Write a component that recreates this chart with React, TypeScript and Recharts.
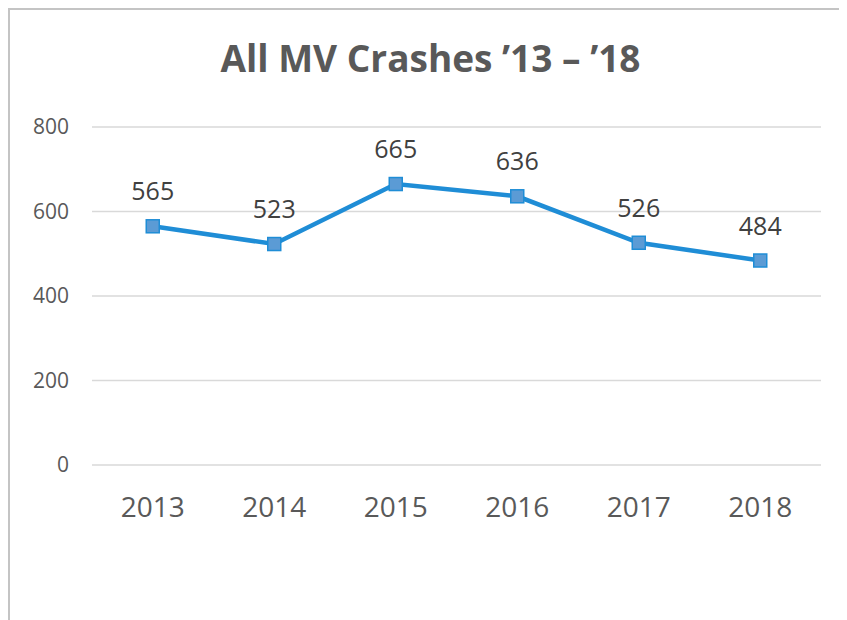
import React from "react";
import {
  LineChart,
  Line,
  XAxis,
  YAxis,
  CartesianGrid,
  LabelList,
} from "recharts";

// ─── Data ───────────────────────────────────────────────────────────────────
const YEARS = ["2013", "2014", "2015", "2016", "2017", "2018"];
const CRASHES = [565, 523, 665, 636, 526, 484];
const Y_TICKS = [0, 200, 400, 600, 800];

const data = YEARS.map((year, i) => ({ year, crashes: CRASHES[i] }));

// ─── Colours / fonts ───────────────────────────────────────────────────────
const LINE_COLOR = "#1f8dd6";
const MARKER_FILL = "#5b9bd5";
const GRID_COLOR = "#d9d9d9";
const AXIS_TEXT = "#595959";
const LABEL_TEXT = "#404040";
const FONT = "'Open Sans', 'Noto Sans', sans-serif";

function SquareDot(props: { cx?: number; cy?: number; index?: number }) {
  const { cx, cy, index } = props;
  if (cx == null || cy == null) return null;
  const s = 13;
  return (
    <rect
      key={`dot-${index}`}
      x={cx - s / 2}
      y={cy - s / 2}
      width={s}
      height={s}
      fill={MARKER_FILL}
      stroke={LINE_COLOR}
      strokeWidth={1.5}
    />
  );
}

export default function App() {
  return (
    <div
      style={{
        position: "relative",
        width: 839,
        height: 612,
        borderTop: "2px solid #c4c4c4",
        borderLeft: "2px solid #c4c4c4",
        boxSizing: "border-box",
        overflow: "hidden",
        background: "#fff",
        fontFamily: FONT,
      }}
    >
      <div
        style={{
          position: "absolute",
          left: 0,
          top: 23,
          width: 841,
          textAlign: "center",
          fontSize: 37,
          fontWeight: 700,
          color: AXIS_TEXT,
          lineHeight: "50px",
        }}
      >
        All MV Crashes ’13 – ’18
      </div>
      <LineChart
        width={837}
        height={610}
        data={data}
        margin={{ top: 117, right: 26, bottom: 125, left: 22 }}
      >
        <CartesianGrid
          vertical={false}
          stroke={GRID_COLOR}
          strokeWidth={1.5}
        />
        <XAxis
          dataKey="year"
          height={30}
          axisLine={false}
          tickLine={false}
          tickSize={0}
          tickMargin={32}
          padding={{ left: 60.75, right: 60.75 }}
          tick={{ fontSize: 28, fill: AXIS_TEXT, fontFamily: FONT }}
        />
        <YAxis
          width={60}
          domain={[0, 800]}
          ticks={Y_TICKS}
          axisLine={false}
          tickLine={false}
          tickSize={0}
          tickMargin={23}
          tick={{ fontSize: 21, fill: AXIS_TEXT, fontFamily: FONT }}
        />
        <Line
          type="linear"
          dataKey="crashes"
          stroke={LINE_COLOR}
          strokeWidth={4.5}
          dot={<SquareDot />}
          activeDot={false}
          isAnimationActive={false}
        >
          <LabelList
            dataKey="crashes"
            position="top"
            offset={26}
            style={{ fontSize: 25, fill: LABEL_TEXT, fontFamily: FONT }}
          />
        </Line>
      </LineChart>
    </div>
  );
}
